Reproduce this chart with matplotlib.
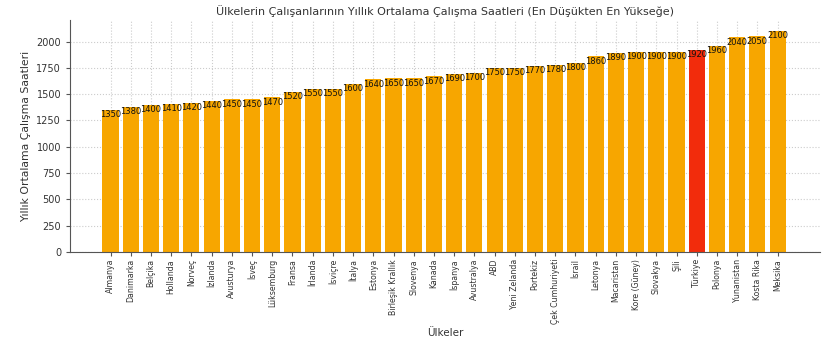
import matplotlib.pyplot as plt

countries = ["Almanya", "Danimarka", "Belçika", "Hollanda", "Norveç", "İzlanda",
             "Avusturya", "İsveç", "Lüksemburg", "Fransa", "İrlanda", "İsviçre",
             "İtalya", "Estonya", "Birleşik Krallık", "Slovenya", "Kanada", "İspanya",
             "Avustralya", "ABD", "Yeni Zelanda", "Portekiz", "Çek Cumhuriyeti", "İsrail",
             "Letonya", "Macaristan", "Kore (Güney)", "Slovakya", "Şili", "Türkiye",
             "Polonya", "Yunanistan", "Kosta Rika", "Meksika"]
hours = [1350, 1380, 1400, 1410, 1420, 1440, 1450, 1450, 1470, 1520, 1550, 1550,
         1600, 1640, 1650, 1650, 1670, 1690, 1700, 1750, 1750, 1770, 1780, 1800,
         1860, 1890, 1900, 1900, 1900, 1920, 1960, 2040, 2050, 2100]
highlight = "Türkiye"

colors = ['#F22C0C' if c == highlight else '#F7A600' for c in countries]

fig = plt.figure(figsize=(8.25, 3.4), dpi=100)
ax = fig.add_axes([0.085, 0.259, 0.909, 0.682])

x = list(range(len(countries)))
ax.bar(x, hours, color=colors, width=0.8, zorder=2)

# value labels sitting on the top of each bar
for xi, h in zip(x, hours):
    ax.text(xi, h - 45, str(h), ha='center', va='center', fontsize=6, color='#111111', zorder=3)

ax.set_xticks(x)
ax.set_xticklabels(countries, rotation=90, fontsize=5.6, color='#333333')
ax.tick_params(axis='y', labelsize=7, labelcolor='#333333')
ax.tick_params(axis='both', length=3, color='#555555')
ax.tick_params(axis='x', pad=2)
ax.set_xlim(-2.0, 35.1)
ax.set_ylim(0, 2205)

ax.grid(True, linestyle=':', color='#cccccc', linewidth=0.8, zorder=0)
ax.set_axisbelow(True)
ax.spines['top'].set_visible(False)
ax.spines['right'].set_visible(False)
ax.spines['left'].set_color('#555555')
ax.spines['bottom'].set_color('#555555')

ax.set_title('Ülkelerin Çalışanlarının Yıllık Ortalama Çalışma Saatleri (En Düşükten En Yükseğe)',
             fontsize=8, color='#333333', pad=4)
ax.set_xlabel('Ülkeler', fontsize=7.5, color='#333333')
ax.xaxis.set_label_coords(0.5, -0.33)
ax.set_ylabel('Yıllık Ortalama Çalışma Saatleri', fontsize=7.8, color='#333333')

fig.savefig('out.png', dpi=100)
